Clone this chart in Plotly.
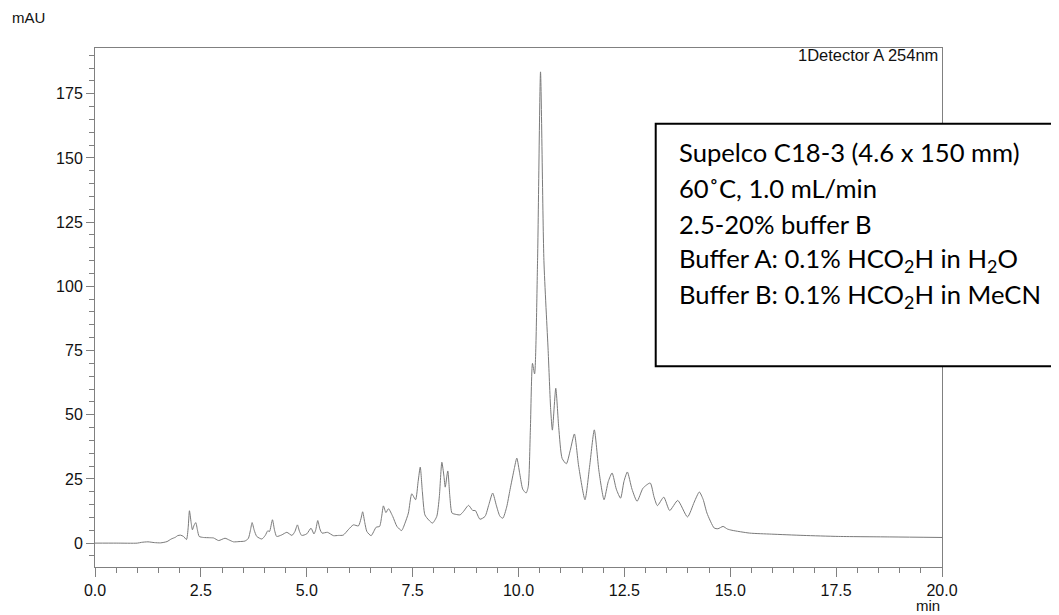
import plotly.graph_objects as go

# Retention time (min) and absorbance (mAU)
time_min = [
    0.0, 0.5, 1.0, 1.1, 1.25, 1.4, 1.55, 1.7, 1.8, 1.9, 1.95, 2.02, 2.09, 2.16, 2.2, 2.23,
    2.27, 2.30, 2.34, 2.38, 2.42, 2.46, 2.56, 2.70, 2.80, 2.92, 3.07, 3.17, 3.27, 3.40,
    3.54, 3.62, 3.67, 3.71, 3.76, 3.82, 3.94, 4.02, 4.08, 4.12, 4.19, 4.24, 4.29, 4.41,
    4.53, 4.65, 4.72, 4.78, 4.83, 4.88, 5.00, 5.10, 5.17, 5.21, 5.26, 5.31, 5.36, 5.49,
    5.63, 5.75, 5.86, 5.98, 6.10, 6.22, 6.28, 6.32, 6.37, 6.42, 6.52, 6.64, 6.72, 6.77,
    6.81, 6.87, 6.93, 7.03, 7.13, 7.24, 7.32, 7.40, 7.48, 7.57, 7.63, 7.68, 7.73, 7.79,
    7.88, 7.97, 8.07, 8.13, 8.19, 8.24, 8.27, 8.33, 8.38, 8.43, 8.52, 8.62, 8.70, 8.82,
    8.92, 8.98, 9.09, 9.21, 9.30, 9.39, 9.48, 9.56, 9.63, 9.72, 9.80, 9.90, 9.96, 10.03,
    10.10, 10.18, 10.23, 10.28, 10.33, 10.38, 10.45, 10.52, 10.60, 10.70, 10.76, 10.80,
    10.88, 10.95, 11.03, 11.13, 11.22, 11.32, 11.42, 11.57, 11.68, 11.79, 11.90, 12.02,
    12.12, 12.21, 12.31, 12.41, 12.49, 12.57, 12.68, 12.80, 12.94, 13.11, 13.20, 13.28,
    13.43, 13.57, 13.76, 13.99, 14.15, 14.27, 14.36, 14.45, 14.62, 14.71, 14.83, 14.93,
    15.04, 15.46, 15.97, 16.72, 17.56, 18.82, 20.0,
]
absorbance_mau = [
    0.0, 0.0, 0.0, 0.3, 0.5, 0.2, 0.1, 0.6, 1.6, 2.3, 2.9, 3.1, 2.6, 1.4, 6.0, 12.6,
    8.0, 5.2, 7.0, 8.0, 5.0, 2.6, 2.2, 2.1, 2.0, 1.0, 1.9, 1.2, 0.5, 0.6,
    0.8, 1.8, 5.0, 8.0, 5.0, 2.6, 1.6, 3.0, 4.8, 4.5, 9.1, 5.0, 2.6, 3.2,
    4.2, 3.0, 4.5, 7.1, 4.5, 3.0, 3.6, 5.8, 3.6, 5.0, 8.8, 5.5, 3.9, 4.2,
    2.9, 3.0, 3.1, 5.2, 7.1, 6.7, 9.5, 12.2, 8.0, 4.5, 2.9, 6.2, 6.5, 10.5,
    14.5, 11.9, 13.4, 10.4, 6.5, 4.9, 7.8, 11.7, 19.2, 16.9, 24.0, 29.6, 20.0, 11.0,
    9.0, 7.8, 10.4, 18.0, 31.5, 26.0, 21.8, 28.1, 18.0, 11.7, 11.2, 11.0, 12.3, 14.7,
    12.7, 12.7, 9.3, 10.4, 15.0, 19.5, 14.5, 10.5, 9.7, 14.0, 20.8, 29.0, 33.1, 27.0,
    21.0, 19.5, 22.0, 44.0, 70.0, 65.9, 110.0, 183.5, 110.0, 75.0, 52.0, 44.0,
    60.3, 45.0, 33.0, 30.9, 36.0, 42.5, 30.0, 16.9, 30.0, 44.1, 28.0, 16.9,
    24.0, 27.3, 21.0, 17.5, 24.0, 27.7, 21.0, 16.3, 21.4, 23.4, 18.0, 14.6,
    17.9, 12.7, 16.6, 10.2, 16.0, 19.9, 17.0, 11.7, 5.9, 5.6, 6.5, 5.5,
    5.0, 3.9, 3.5, 3.0, 2.6, 2.4, 2.2,
]

info_lines = [
    "Supelco C18-3 (4.6 x 150 mm)",
    "60˚C, 1.0 mL/min",
    "2.5-20% buffer B",
    "Buffer A: 0.1% HCO<sub>2</sub>H in H<sub>2</sub>O",
    "Buffer B: 0.1% HCO<sub>2</sub>H in MeCN",
]

AX = "#808080"
ARIAL = "Arial, Liberation Sans, sans-serif"

fig = go.Figure()
fig.add_trace(go.Scatter(
    x=time_min, y=absorbance_mau, mode="lines",
    line=dict(color="#7a7a7a", width=1, shape="spline", smoothing=0.6),
    hoverinfo="x+y", showlegend=False,
))

# The page body adds an 8px offset, so the figure is 8px smaller and margins shifted.
fig.update_layout(
    width=1051, height=607,
    margin=dict(l=87, r=117, t=40, b=48),
    paper_bgcolor="white", plot_bgcolor="white",
    font=dict(family=ARIAL, size=16, color="#111111"),
    xaxis=dict(
        range=[0, 20], tickmode="linear", tick0=0, dtick=2.5, tickformat=".1f",
        ticks="outside", ticklen=9, tickcolor=AX, tickwidth=1,
        minor=dict(dtick=0.5, ticks="outside", ticklen=5, tickcolor=AX),
        showline=True, linecolor=AX, linewidth=1, mirror=True,
        showgrid=False, zeroline=False, automargin=False,
    ),
    yaxis=dict(
        range=[-9.3, 192.8], tickmode="linear", tick0=0, dtick=25,
        ticks="outside", ticklen=8, tickcolor=AX, tickwidth=1,
        minor=dict(dtick=5, ticks="outside", ticklen=5, tickcolor=AX),
        showline=True, linecolor=AX, linewidth=1, mirror=True,
        showgrid=False, zeroline=False, automargin=False,
    ),
)

# Axis unit labels and detector label
fig.add_annotation(text="mAU", xref="paper", yref="paper", x=-0.1004, y=1.058,
                   xanchor="left", yanchor="middle", showarrow=False,
                   font=dict(family=ARIAL, size=15, color="#111111"))
fig.add_annotation(text="min", xref="paper", yref="paper", x=1.0, y=-0.075,
                   xanchor="right", yanchor="middle", showarrow=False,
                   font=dict(family=ARIAL, size=15, color="#111111"))
fig.add_annotation(text="1Detector A 254nm", xref="paper", yref="paper", x=0.9976, y=0.9865,
                   xanchor="right", yanchor="middle", showarrow=False,
                   font=dict(family=ARIAL, size=16.5, color="#111111"))

# Info box (extends past the right edge of the figure)
fig.add_shape(type="rect", xref="paper", yref="paper",
              x0=0.662, x1=1.35, y0=0.387, y1=0.854,
              line=dict(color="black", width=2), fillcolor="white", layer="above")

box_top_px = 152.3
line_gap_px = 36
plot_top, plot_h = 48, 519
for i, txt in enumerate(info_lines):
    cy = box_top_px + i * line_gap_px
    fig.add_annotation(text=txt, xref="paper", yref="paper",
                       x=(677 - 95) / 847, y=(plot_top + plot_h - cy) / plot_h,
                       xanchor="left", yanchor="middle", showarrow=False,
                       font=dict(family="Lato, Carlito, sans-serif", size=25.6, color="black"))

fig.write_html("out.html")
